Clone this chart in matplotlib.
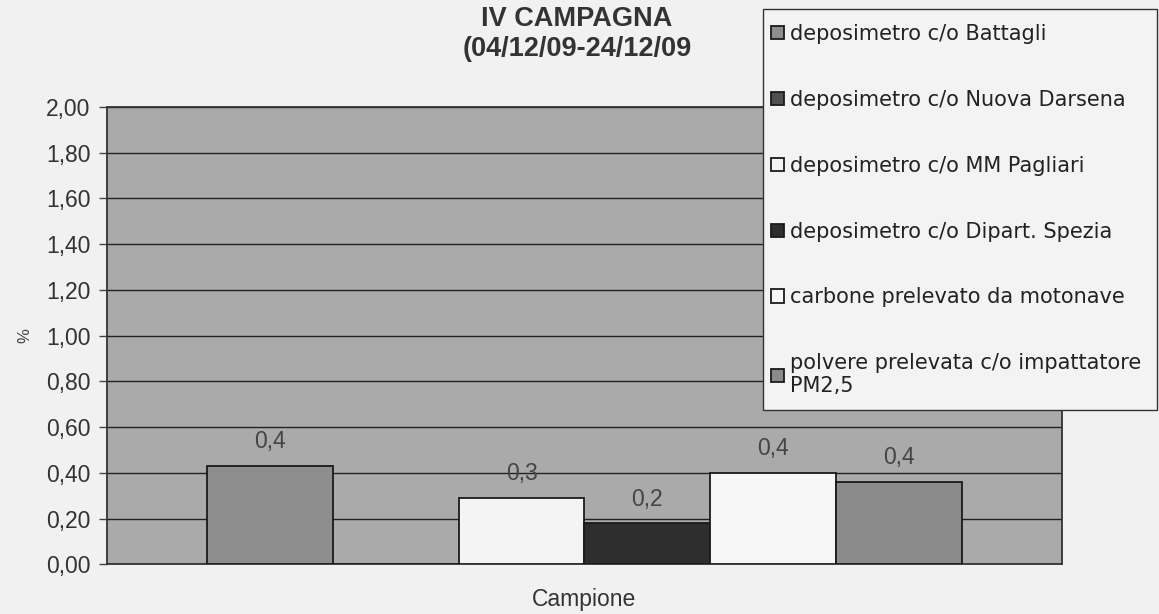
import numpy as np
import matplotlib.pyplot as plt
from matplotlib.patches import Rectangle

plt.rcParams['font.family'] = ['Liberation Sans', 'DejaVu Sans']

series = ["deposimetro c/o Battagli",
          "deposimetro c/o Nuova Darsena",
          "deposimetro c/o MM Pagliari",
          "deposimetro c/o Dipart. Spezia",
          "carbone prelevato da motonave",
          "polvere prelevata c/o impattatore\nPM2,5"]
values = [0.43, np.nan, 0.29, 0.18, 0.40, 0.36]
colors = ["#8e8e8e", "#505050", "#f4f4f4", "#2e2e2e", "#f6f6f6", "#8a8a8a"]
yticks = [0.0, 0.2, 0.4, 0.6, 0.8, 1.0, 1.2, 1.4, 1.6, 1.8, 2.0]

W, H = 1159, 614
fig = plt.figure(figsize=(11.59, 6.14), dpi=100, facecolor="#f1f1f1")
ax = fig.add_axes([0.0923, 0.081, 0.824, 0.745])
ax.set_facecolor("#aaaaaa")

w = 0.108
n = len(series)
for i, (lab, v, c) in enumerate(zip(series, values, colors)):
    x = (i - (n - 1) / 2) * w
    h = 0 if np.isnan(v) else v
    ax.bar(x, h, width=w, color=c, edgecolor="#1a1a1a", linewidth=1.3, label=lab, zorder=3)
    if not np.isnan(v):
        ax.text(x, v + 0.055, ("%.1f" % v).replace(".", ","), ha="center", va="bottom",
                fontsize=16.5, color="#444444", zorder=4)

ax.set_xlim(-0.41, 0.41)
ax.set_ylim(0, 2.0)
ax.set_yticks(yticks)
ax.set_yticklabels([("%.2f" % t).replace(".", ",") for t in yticks], fontsize=16.5, color="#333333")
ax.set_xticks([])
ax.yaxis.grid(True, color="#222222", linewidth=1.0, zorder=1)
ax.tick_params(axis="y", length=6, width=1, color="#444444", pad=6)
for s in ax.spines.values():
    s.set_color("#333333")
    s.set_linewidth(1.3)

ax.set_ylabel("%", fontsize=12, color="#444444", labelpad=10)
ax.set_xlabel("Campione", fontsize=16.5, color="#333333", labelpad=17)
fig.text(0.498, 0.99, "IV CAMPAGNA\n(04/12/09-24/12/09", ha="center", va="top",
         fontsize=19.5, fontweight="bold", color="#333333", linespacing=1.2)

# legend box drawn separately so the padding can differ top/left
box = Rectangle((763 / W, 1 - 410 / H), 394 / W, 401 / H, transform=fig.transFigure,
                facecolor="#f3f3f3", edgecolor="#333333", linewidth=1.0, zorder=4)
fig.patches.append(box)

leg = fig.legend(loc="upper left", bbox_to_anchor=(771 / W, 1 - 24 / H),
                 labelspacing=2.2, handlelength=0.6, handleheight=0.6,
                 handletextpad=0.3, borderpad=0, borderaxespad=0, frameon=False,
                 prop={'family': ['DejaVu Sans'], 'size': 15})
leg.set_zorder(5)
for t in leg.get_texts():
    t.set_color("#222222")
    t.set_linespacing(1.2)

fig.savefig("out.png", dpi=100, facecolor=fig.get_facecolor())
